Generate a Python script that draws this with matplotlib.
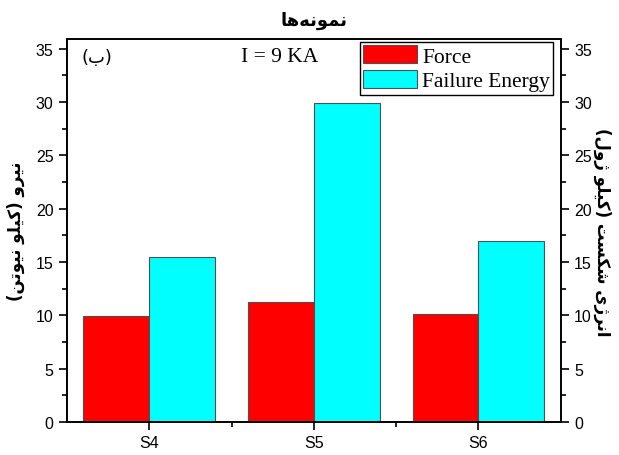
import matplotlib
matplotlib.use('Agg')
import matplotlib.pyplot as plt
import numpy as np
from matplotlib.ticker import MultipleLocator, FixedLocator

# data
samples = ['S4', 'S5', 'S6']
force = [9.9, 11.2, 10.1]
energy = [15.5, 29.9, 17.0]

# persian text written in presentation forms, visual order (no shaping in mpl)
title_fa = '\uFE8E\uFEEB\uFEEA\uFEE7\uFEEE\uFEE4\uFEE7'
nirou = '\uFEE7\uFBFF\uFEAE\uFEED'
kilo = '\uFB90\uFBFF\uFEE0\uFEEE'
newton = '\uFEE7\uFBFF\uFEEE\uFE97\uFEE6'
enerzhi = '\uFE8D\uFEE7\uFEAE\uFB8A\uFBFC'
shekast = '\uFEB7\uFB91\uFEB4\uFE96'
zhoul = '\uFB8A\uFEED\uFEDD'
left_label = '(' + newton[::-1] + ' ' + kilo[::-1] + ') ' + nirou[::-1]
right_label = '(' + zhoul[::-1] + ' ' + kilo[::-1] + ') ' + shekast[::-1] + ' ' + enerzhi[::-1]
be_label = '(\uFE8F)'

plt.rcParams['font.family'] = ['Liberation Sans', 'DejaVu Sans']

fig = plt.figure(figsize=(6.19, 4.56), dpi=100)
ax = fig.add_axes([0.108, 0.0724, 0.798, 0.84])
ax2 = ax.twinx()

x = np.arange(1, len(samples) + 1)
w = 0.4
ax.bar(x - w / 2, force, w, color='#FF0000', edgecolor='#505050', linewidth=0.8, label='Force')
ax.bar(x + w / 2, energy, w, color='#00FFFF', edgecolor='#505050', linewidth=0.8, label='Failure Energy')

ax.set_xlim(0.5, 3.5)
for a in (ax, ax2):
    a.set_ylim(0, 35.9)
    a.yaxis.set_major_locator(MultipleLocator(5))
    a.yaxis.set_minor_locator(MultipleLocator(2.5))
    a.tick_params(axis='y', which='major', direction='out', length=6, width=1.2, labelsize=11.5)
    a.tick_params(axis='y', which='minor', direction='out', length=3.5, width=1.2)
    for s in a.spines.values():
        s.set_linewidth(1.2)
ax.set_xticks(x)
ax.set_xticklabels(samples)
ax.xaxis.set_minor_locator(FixedLocator([1.5, 2.5]))
ax.tick_params(axis='x', which='major', direction='out', length=6, width=1.2, labelsize=11.5)
ax.tick_params(axis='x', which='minor', direction='out', length=3.5, width=1.2)

ax.set_ylabel(left_label, family=['DejaVu Sans'], fontsize=12, fontweight='bold', labelpad=8)
fig.text(0.973, 0.49, right_label, family=['DejaVu Sans'], fontsize=12, fontweight='bold', rotation=270,
         ha='center', va='center')
ax.set_title(title_fa, family=['DejaVu Sans'], fontsize=13, fontweight='bold', pad=10)

ax.text(0.03, 0.953, be_label, transform=ax.transAxes, family=['DejaVu Sans'], fontsize=13, va='center', ha='left')
ax.text(0.43, 0.953, 'I = 9 KA', transform=ax.transAxes, family=['Liberation Serif'], fontsize=15.5,
        va='center', ha='center')

leg = ax.legend(loc='upper right', bbox_to_anchor=(0.985, 0.993), prop={'family': 'Liberation Serif', 'size': 15.5},
                frameon=True, fancybox=False, edgecolor='black', framealpha=1, borderpad=0.15,
                handlelength=2.5, handleheight=0.95, handletextpad=0.25, labelspacing=0.15, borderaxespad=0)
leg.get_frame().set_linewidth(1.0)

fig.savefig('out.png', dpi=100)
